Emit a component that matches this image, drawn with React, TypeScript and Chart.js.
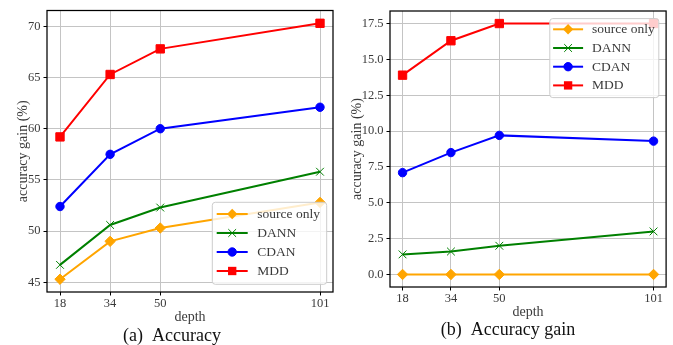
import React, { useEffect, useRef } from 'react';
import { Chart, registerables } from 'chart.js';

Chart.register(...registerables);

// ---------- data ----------
const depths = [18, 34, 50, 101];
const seriesNames = ['source only', 'DANN', 'CDAN', 'MDD'];

const accSourceOnly = [45.3, 49.0, 50.3, 52.8];
const accDANN = [46.7, 50.6, 52.3, 55.8];
const accCDAN = [52.4, 57.5, 60.0, 62.1];
const accMDD = [59.2, 65.3, 67.8, 70.3];

const gainSourceOnly = [0, 0, 0, 0];
const gainDANN = [1.4, 1.6, 2.0, 3.0];
const gainCDAN = [7.1, 8.5, 9.7, 9.3];
const gainMDD = [13.9, 16.3, 17.5, 17.5];

const xTicks = [18, 34, 50, 101];
const accTicks = [45, 50, 55, 60, 65, 70];
const gainTicks = [0, 2.5, 5, 7.5, 10, 12.5, 15, 17.5];

const yTitle = 'accuracy gain (%)';
const xTitle = 'depth';
const captions = ['(a)\u00a0\u00a0Accuracy', '(b)\u00a0\u00a0Accuracy gain'];

// ---------- style ----------
const FONT = '"Liberation Serif", "Times New Roman", serif';
const TEXT = '#3a3a3a';
const GRID = '#c4c4c4';
const colors = ['#FFA500', '#008000', '#0000FF', '#FF0000'];
const pointStyles = ['rectRot', 'crossRot', 'circle', 'rect'];
const pointRadii = [5.2, 5.5, 4.2, 5.9];

function drawMarker(ctx: CanvasRenderingContext2D, style: string, x: number, y: number, r: number, color: string) {
  ctx.save();
  ctx.fillStyle = color;
  ctx.strokeStyle = color;
  ctx.lineWidth = 1;
  ctx.beginPath();
  if (style === 'rectRot') {
    ctx.moveTo(x, y - r);
    ctx.lineTo(x + r, y);
    ctx.lineTo(x, y + r);
    ctx.lineTo(x - r, y);
    ctx.closePath();
    ctx.fill();
  } else if (style === 'crossRot') {
    const d = r * Math.SQRT1_2;
    ctx.moveTo(x - d, y - d);
    ctx.lineTo(x + d, y + d);
    ctx.moveTo(x + d, y - d);
    ctx.lineTo(x - d, y + d);
    ctx.stroke();
  } else if (style === 'circle') {
    ctx.arc(x, y, r, 0, Math.PI * 2);
    ctx.fill();
    ctx.stroke();
  } else {
    const s = r * Math.SQRT1_2;
    ctx.rect(x - s, y - s, 2 * s, 2 * s);
    ctx.fill();
  }
  ctx.restore();
}

type LegendCfg = {
  anchor: 'bottom' | 'top';
  offRight: number;
  offEdge: number;
  width: number;
  height: number;
  rowStart: number;
  rowGap: number;
  lineX: number;
  lineLen: number;
  textX: number;
};

function roundRect(ctx: CanvasRenderingContext2D, x: number, y: number, w: number, h: number, r: number) {
  ctx.beginPath();
  ctx.moveTo(x + r, y);
  ctx.lineTo(x + w - r, y);
  ctx.quadraticCurveTo(x + w, y, x + w, y + r);
  ctx.lineTo(x + w, y + h - r);
  ctx.quadraticCurveTo(x + w, y + h, x + w - r, y + h);
  ctx.lineTo(x + r, y + h);
  ctx.quadraticCurveTo(x, y + h, x, y + h - r);
  ctx.lineTo(x, y + r);
  ctx.quadraticCurveTo(x, y, x + r, y);
  ctx.closePath();
}

function makePlugins(legend: LegendCfg) {
  return [
    {
      id: 'frame',
      afterDatasetsDraw(chart: any) {
        const { ctx, chartArea: a } = chart;
        ctx.save();
        ctx.strokeStyle = '#000';
        ctx.lineWidth = 1.25;
        ctx.strokeRect(a.left, a.top, a.right - a.left, a.bottom - a.top);
        ctx.restore();
      },
    },
    {
      id: 'mplLegend',
      afterDraw(chart: any) {
        const { ctx, chartArea: a } = chart;
        const right = a.right - legend.offRight;
        const left = right - legend.width;
        const top = legend.anchor === 'top' ? a.top + legend.offEdge : a.bottom - legend.offEdge - legend.height;
        ctx.save();
        roundRect(ctx, left, top, legend.width, legend.height, 3);
        ctx.fillStyle = 'rgba(255,255,255,0.8)';
        ctx.fill();
        ctx.strokeStyle = '#cccccc';
        ctx.lineWidth = 1;
        ctx.stroke();
        chart.data.datasets.forEach((ds: any, i: number) => {
          const y = top + legend.rowStart + i * legend.rowGap;
          const x0 = left + legend.lineX;
          ctx.beginPath();
          ctx.strokeStyle = ds.borderColor;
          ctx.lineWidth = 2;
          ctx.moveTo(x0, y);
          ctx.lineTo(x0 + legend.lineLen, y);
          ctx.stroke();
          drawMarker(ctx, ds.pointStyle, x0 + legend.lineLen / 2, y, ds.pointRadius, ds.borderColor);
          ctx.fillStyle = TEXT;
          ctx.font = `13.5px ${FONT}`;
          ctx.textBaseline = 'middle';
          ctx.textAlign = 'left';
          ctx.fillText(ds.label, left + legend.textX, y + 0.5);
        });
        ctx.restore();
      },
    },
  ];
}

type PanelProps = {
  left: number;
  width: number;
  series: number[][];
  yTicks: number[];
  decimals: number;
  yAxisWidth: number;
  yTitlePad: number;
  padding: { top: number; right: number; bottom: number };
  legend: LegendCfg;
};

function Panel(p: PanelProps) {
  const ref = useRef<HTMLCanvasElement | null>(null);
  useEffect(() => {
    if (!ref.current) return;
    const all = p.series.flat();
    const yMinD = Math.min(...all);
    const yMaxD = Math.max(...all);
    const yR = yMaxD - yMinD;
    const xR = depths[depths.length - 1] - depths[0];
    const chart = new Chart(ref.current, {
      type: 'line',
      data: {
        datasets: p.series.map((vals, i) => ({
          label: seriesNames[i],
          data: vals.map((v, j) => ({ x: depths[j], y: v })),
          borderColor: colors[i],
          backgroundColor: colors[i],
          pointBackgroundColor: colors[i],
          pointBorderColor: colors[i],
          pointStyle: pointStyles[i] as any,
          pointRadius: pointRadii[i],
          pointBorderWidth: 1,
          borderWidth: 2,
          tension: 0,
          fill: false,
        })),
      },
      options: {
        animation: false,
        responsive: false,
        maintainAspectRatio: false,
        events: [],
        layout: { padding: { left: 0, top: p.padding.top, right: p.padding.right, bottom: p.padding.bottom } },
        plugins: { legend: { display: false }, tooltip: { enabled: false } },
        scales: {
          x: {
            type: 'linear',
            min: depths[0] - 0.05 * xR,
            max: depths[depths.length - 1] + 0.05 * xR,
            afterBuildTicks: (s: any) => {
              s.ticks = xTicks.map((v) => ({ value: v }));
            },
            afterFit: (s: any) => {
              s.height = 34;
            },
            grid: { color: GRID, lineWidth: 1, drawTicks: true, tickLength: 3.5, tickColor: '#000', tickWidth: 1 },
            border: { display: false },
            ticks: {
              padding: 1.5,
              color: TEXT,
              maxRotation: 0,
              autoSkip: false,
              font: { family: FONT, size: 12.5, lineHeight: 1 },
              callback: (v: any) => String(v),
            },
            title: {
              display: true,
              text: xTitle,
              color: TEXT,
              font: { family: FONT, size: 14 },
              padding: { top: 0, bottom: 0 },
            },
          },
          y: {
            type: 'linear',
            min: yMinD - 0.05 * yR,
            max: yMaxD + 0.05 * yR,
            afterBuildTicks: (s: any) => {
              s.ticks = p.yTicks.map((v) => ({ value: v }));
            },
            afterFit: (s: any) => {
              s.width = p.yAxisWidth;
            },
            grid: { color: GRID, lineWidth: 1, drawTicks: true, tickLength: 3.5, tickColor: '#000', tickWidth: 1 },
            border: { display: false },
            ticks: {
              padding: 3,
              color: TEXT,
              autoSkip: false,
              font: { family: FONT, size: 12.5 },
              callback: (v: any) => Number(v).toFixed(p.decimals),
            },
            title: {
              display: true,
              text: yTitle,
              color: TEXT,
              font: { family: FONT, size: 14 },
              padding: { top: p.yTitlePad, bottom: 0 },
            },
          },
        },
      },
      plugins: makePlugins(p.legend) as any,
    });
    return () => chart.destroy();
  }, []);
  return (
    <canvas
      ref={ref}
      width={p.width}
      height={345}
      style={{ position: 'absolute', left: p.left, top: 0, width: p.width, height: 345 }}
    />
  );
}

export default function App() {
  return (
    <div style={{ position: 'absolute', left: 0, top: 0, width: 673, height: 345, background: '#fff', overflow: 'hidden' }}>
      <Panel
        left={0}
        width={340}
        series={[accSourceOnly, accDANN, accCDAN, accMDD]}
        yTicks={accTicks}
        decimals={0}
        yAxisWidth={47}
        yTitlePad={14.5}
        padding={{ top: 7, right: 7, bottom: 19 }}
        legend={{ anchor: 'bottom', offRight: 6.3, offEdge: 7.7, width: 114.4, height: 82, rowStart: 11.7, rowGap: 19, lineX: 4.4, lineLen: 31, textX: 45 }}
      />
      <Panel
        left={340}
        width={333}
        series={[gainSourceOnly, gainDANN, gainCDAN, gainMDD]}
        yTicks={gainTicks}
        decimals={1}
        yAxisWidth={50}
        yTitlePad={9}
        padding={{ top: 11, right: 5, bottom: 24 }}
        legend={{ anchor: 'top', offRight: 7.3, offEdge: 7.6, width: 109, height: 79, rowStart: 10.7, rowGap: 18.7, lineX: 3.3, lineLen: 30, textX: 42.3 }}
      />
      <div style={{ position: 'absolute', left: 72, top: 326, width: 200, textAlign: 'center', font: `18px ${FONT}`, lineHeight: '18px', color: '#111' }}>
        {captions[0]}
      </div>
      <div style={{ position: 'absolute', left: 408, top: 319.5, width: 200, textAlign: 'center', font: `18px ${FONT}`, lineHeight: '18px', color: '#111' }}>
        {captions[1]}
      </div>
    </div>
  );
}
